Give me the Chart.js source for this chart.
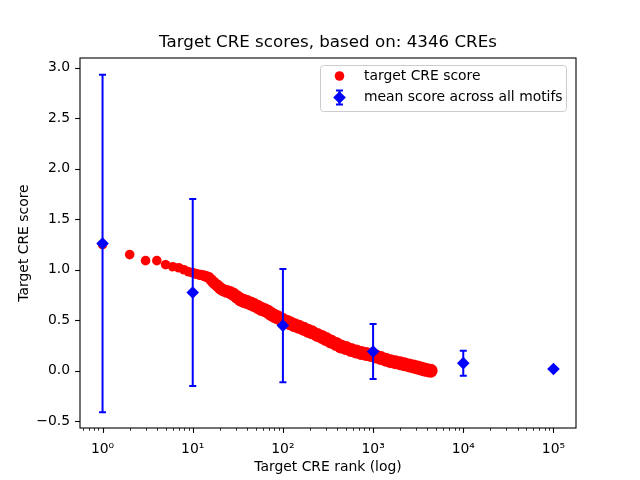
<!DOCTYPE html>
<html>
<head>
<meta charset="utf-8">
<script src="https://cdn.jsdelivr.net/npm/chart.js@4.4.0/dist/chart.umd.min.js"></script>
<style>
  html, body { margin: 0; padding: 0; background: #ffffff; }
  #wrap { width: 640px; height: 480px; }
</style>
</head>
<body>
<div id="wrap"><canvas id="creChart" width="640" height="480"></canvas></div>
<script>
// Chart data
const titleText = 'Target CRE scores, based on: 4346 CREs';

const creRanks = [1, 2, 3, 4, 5, 6, 7, 8, 9, 10, 11, 12, 13, 14, 15, 16, 17, 18, 19, 20,
    21, 22, 24, 26, 28, 31, 34, 37, 40, 44, 48, 53, 58, 63, 68, 74, 80, 87, 94, 100,
    110, 120, 135, 150, 170, 190, 210, 240, 270, 300, 340, 390, 440, 500, 570, 650, 740, 840, 950,
    1080, 1220, 1380, 1560, 1760, 1980, 2220, 2500, 2800, 3100, 3400, 3700, 4000, 4346];
const creScores = [1.25, 1.15, 1.09, 1.09, 1.05, 1.03, 1.02, 1.00, 0.98, 0.97, 0.96, 0.95, 0.945, 0.935, 0.925, 0.90, 0.875, 0.855, 0.84, 0.82,
    0.805, 0.795, 0.785, 0.775, 0.76, 0.73, 0.705, 0.69, 0.68, 0.665, 0.65, 0.63, 0.612, 0.60, 0.585, 0.562, 0.545, 0.53, 0.515, 0.50,
    0.485, 0.47, 0.45, 0.435, 0.415, 0.395, 0.38, 0.355, 0.335, 0.315, 0.29, 0.265, 0.24, 0.225, 0.205, 0.19, 0.175, 0.165, 0.155,
    0.14, 0.125, 0.11, 0.095, 0.085, 0.075, 0.065, 0.053, 0.042, 0.032, 0.022, 0.013, 0.006, 0.0];

const motifRanks = [1, 10, 100, 1000, 10000, 100000];
const motifMeans = [1.26, 0.775, 0.447, 0.19, 0.075, 0.017];
const motifErrors = [1.67, 0.925, 0.56, 0.273, 0.124, 0];

const xTicks = [1, 10, 100, 1000, 10000, 100000];
const yTicks = [-0.5, 0.0, 0.5, 1.0, 1.5, 2.0, 2.5, 3.0];
const legendLabels = ['target CRE score', 'mean score across all motifs'];

const RED = '#ff0000';
const BLUE = '#0000ff';
const FONT = 'DejaVu Sans';
const SUP = { '0': '\u2070', '1': '\u00b9', '2': '\u00b2', '3': '\u00b3', '4': '\u2074', '5': '\u2075' };

function powerLabel(v) {
    const e = String(Math.round(Math.log10(v)));
    return '10' + e.split('').map(c => SUP[c] || c).join('');
}

// markers in the dense part of the curve overlap into a thicker band
function bandRadius(rank) {
    if (rank <= 9) return 4.8;
    return Math.min(7, 4.8 + 2.2 * Math.log10(rank / 9) / Math.log10(4));
}

function drawErrorBar(ctx, px, top, bot) {
    ctx.beginPath();
    ctx.moveTo(px, top);
    ctx.lineTo(px, bot);
    ctx.moveTo(px - 3.5, top);
    ctx.lineTo(px + 3.5, top);
    ctx.moveTo(px - 3.5, bot);
    ctx.lineTo(px + 3.5, bot);
    ctx.stroke();
}

function drawDiamond(ctx, x, y, r) {
    ctx.beginPath();
    ctx.moveTo(x, y - r);
    ctx.lineTo(x + r, y);
    ctx.lineTo(x, y + r);
    ctx.lineTo(x - r, y);
    ctx.closePath();
    ctx.fill();
}

const decorations = {
    id: 'decorations',
    beforeDatasetDraw(chart, args) {
        // error bars go above the red points but under the blue diamonds
        if (args.index !== 1) return;
        const { ctx, scales: { x, y } } = chart;
        ctx.save();
        ctx.strokeStyle = BLUE;
        ctx.lineWidth = 2;
        motifRanks.forEach((r, i) => {
            const px = x.getPixelForValue(r);
            drawErrorBar(ctx, px,
                y.getPixelForValue(motifMeans[i] + motifErrors[i]),
                y.getPixelForValue(motifMeans[i] - motifErrors[i]));
        });
        ctx.restore();
    },
    afterDraw(chart) {
        const { ctx, chartArea: a, scales: { x, y } } = chart;
        ctx.save();

        // axes frame
        ctx.strokeStyle = '#000000';
        ctx.lineWidth = 1.1;
        ctx.strokeRect(a.left, a.top, a.right - a.left, a.bottom - a.top);

        // x ticks, major + minor (log)
        for (let e = -1; e <= 5; e++) {
            for (let m = 1; m <= 9; m++) {
                const v = m * Math.pow(10, e);
                if (v < x.min || v > x.max) continue;
                const px = Math.round(x.getPixelForValue(v)) + 0.5;
                const major = m === 1;
                ctx.lineWidth = major ? 1.1 : 0.8;
                ctx.beginPath();
                ctx.moveTo(px, a.bottom);
                ctx.lineTo(px, a.bottom + (major ? 4.9 : 2.8));
                ctx.stroke();
            }
        }
        // y ticks
        ctx.lineWidth = 1.1;
        yTicks.forEach(v => {
            const py = Math.round(y.getPixelForValue(v)) + 0.5;
            ctx.beginPath();
            ctx.moveTo(a.left, py);
            ctx.lineTo(a.left - 4.9, py);
            ctx.stroke();
        });

        // title, centred over the axes
        ctx.fillStyle = '#000000';
        ctx.font = '16.7px "' + FONT + '"';
        ctx.textAlign = 'center';
        ctx.textBaseline = 'middle';
        ctx.fillText(titleText, (a.left + a.right) / 2, 43);

        // legend box
        const bx = 320.5, by = 65.5, bw = 246, bh = 46, rr = 3;
        ctx.beginPath();
        ctx.moveTo(bx + rr, by);
        ctx.arcTo(bx + bw, by, bx + bw, by + bh, rr);
        ctx.arcTo(bx + bw, by + bh, bx, by + bh, rr);
        ctx.arcTo(bx, by + bh, bx, by, rr);
        ctx.arcTo(bx, by, bx + bw, by, rr);
        ctx.closePath();
        ctx.fillStyle = 'rgba(255,255,255,0.8)';
        ctx.fill();
        ctx.strokeStyle = '#cccccc';
        ctx.lineWidth = 1;
        ctx.stroke();

        ctx.fillStyle = RED;
        ctx.beginPath();
        ctx.arc(339.5, 76, 4.8, 0, Math.PI * 2);
        ctx.fill();

        ctx.strokeStyle = BLUE;
        ctx.lineWidth = 2;
        drawErrorBar(ctx, 339.5, 90.5, 104.5);
        ctx.fillStyle = BLUE;
        drawDiamond(ctx, 339.5, 97.5, 6.3);

        ctx.fillStyle = '#000000';
        ctx.font = '13.9px "' + FONT + '"';
        ctx.textAlign = 'left';
        ctx.fillText(legendLabels[0], 364, 76);
        ctx.fillText(legendLabels[1], 364, 97.5);

        ctx.restore();
    }
};

const ctxCre = document.getElementById('creChart').getContext('2d');

const creChart = new Chart(ctxCre, {
    type: 'scatter',
    data: {
        datasets: [{
            label: legendLabels[0],
            data: creRanks.map((r, i) => ({ x: r, y: creScores[i] })),
            backgroundColor: RED,
            borderWidth: 0,
            pointRadius: c => bandRadius(c.raw ? c.raw.x : 1),
            pointHoverRadius: c => bandRadius(c.raw ? c.raw.x : 1),
            order: 2
        }, {
            label: legendLabels[1],
            data: motifRanks.map((r, i) => ({ x: r, y: motifMeans[i] })),
            backgroundColor: BLUE,
            borderWidth: 0,
            pointStyle: 'rectRot',
            pointRadius: 6.3,
            pointHoverRadius: 6.3,
            order: 1
        }]
    },
    options: {
        responsive: false,
        animation: false,
        events: [],
        layout: {
            padding: { left: 0, right: 64, top: 58, bottom: 0 }
        },
        plugins: {
            legend: { display: false },
            title: { display: false },
            tooltip: { enabled: false }
        },
        scales: {
            x: {
                type: 'logarithmic',
                min: Math.pow(10, -0.25),
                max: Math.pow(10, 5.25),
                grid: { display: false, drawTicks: false },
                border: { display: false },
                afterBuildTicks: s => { s.ticks = xTicks.map(v => ({ value: v })); },
                afterFit: s => { s.height = 52; },
                ticks: {
                    color: '#000000',
                    font: { family: FONT, size: 13.9 },
                    padding: 13,
                    maxRotation: 0,
                    autoSkip: false,
                    callback: v => powerLabel(v)
                },
                title: {
                    display: true,
                    text: 'Target CRE rank (log)',
                    color: '#000000',
                    font: { family: FONT, size: 13.9 },
                    padding: { top: 0, bottom: 4.6 }
                }
            },
            y: {
                min: -0.567,
                max: 3.097,
                grid: { display: false, drawTicks: false },
                border: { display: false },
                afterBuildTicks: s => { s.ticks = yTicks.map(v => ({ value: v })); },
                afterFit: s => { s.width = 80; },
                ticks: {
                    color: '#000000',
                    font: { family: FONT, size: 13.9 },
                    padding: 10,
                    callback: v => v.toFixed(1).replace('-', '\u2212')
                },
                title: {
                    display: true,
                    text: 'Target CRE score',
                    color: '#000000',
                    font: { family: FONT, size: 13.9 },
                    padding: { top: 15.6, bottom: 0 }
                }
            }
        }
    },
    plugins: [decorations]
});
</script>
</body>
</html>
